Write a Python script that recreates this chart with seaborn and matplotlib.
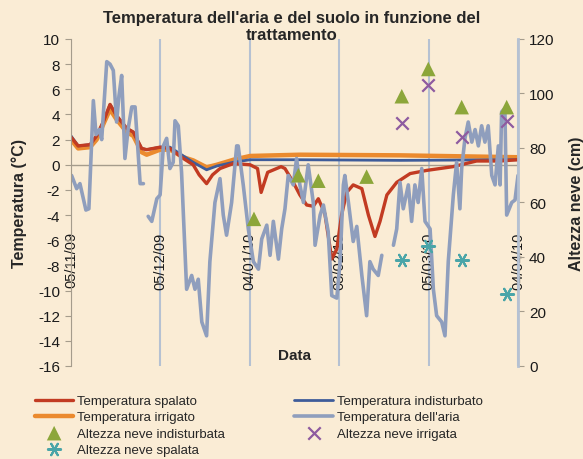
import numpy as np
import pandas as pd
import matplotlib
matplotlib.use("Agg")
import matplotlib.pyplot as plt
import seaborn as sns

# days counted from 05/11/2009
start = pd.Timestamp("2009-11-05")
tick_days = [0, 30, 60, 90, 120, 150]

# air temperature (NaN = gap in the record)
air_day = [0.2, 1.9, 3.0, 5.0, 6.0, 7.5, 8.4, 9.5, 10.3, 12.0, 13.1, 14.2, 15.3, 16.1, 17.0,
           18.1, 19.2, 20.4, 21.5, 22.2, 23.2, 24.3, 25.0, 25.9, 27.1, 28.8, 29.9, 31.0, 32.1,
           33.2, 34.3, 34.9, 36.0, 37.1, 38.8, 40.5, 41.6, 42.7, 43.9, 45.5, 46.6, 48.3, 50.0,
           51.1, 52.2, 53.9, 55.6, 56.1, 57.8, 59.5, 61.2, 62.9, 64.0, 65.7, 66.8, 67.9, 69.6,
           70.7, 71.8, 72.9, 74.6, 75.7, 76.8, 78.0, 79.6, 81.3, 81.9, 83.6, 84.7, 86.3, 87.5,
           89.2, 90.3, 91.4, 91.9, 93.1, 94.7, 95.9, 97.6, 99.2, 100.3, 101.4, 103.1, 104.3,
           106.0, 108.2, 109.3, 110.4, 111.5, 113.2, 114.3, 115.4, 116.5, 117.7, 118.8, 120.5,
           121.6, 122.7, 124.4, 125.5, 126.6, 128.3, 129.4, 130.5, 131.1, 132.2, 133.3, 134.5,
           135.6, 136.7, 137.8, 138.9, 140.0, 141.2, 142.3, 143.4, 144.0, 144.5, 145.6, 146.2,
           147.9, 149.0, 150.0]
air_temp = [-0.85, -1.9, -1.5, -3.6, -3.5, 5.1, 2.4, 2.8, 2.0, 8.2, 8.0, 7.5, 3.4, 5.5, 7.1,
            0.5, 2.9, 4.6, 4.6, 2.1, -1.5, -1.5, np.nan, -4.1, -4.5, -2.7, -2.4, 1.5, 2.1,
            -0.3, 0.2, 3.5, 3.1, -0.6, -9.9, -8.8, -9.9, -9.1, -12.5, -13.6, -7.7, -3.0, -1.1,
            -4.0, -5.6, -3.0, 1.5, 1.5, -1.6, -5.1, -7.7, -8.3, -5.9, -4.8, -7.2, -4.5, -7.5,
            -5.1, -3.5, -0.85, -1.6, 0.5, -1.6, -3.0, 0.0, -3.0, -6.4, -4.0, -3.2, -5.3, -10.4,
            -10.6, -7.7, -1.6, -0.85, -3.0, -6.1, -4.9, -8.8, -12.0, -7.7, -8.3, -8.8, -7.2,
            np.nan, -6.4, -5.1, -1.4, -3.5, -1.6, -4.5, -1.6, -3.0, -0.3, -4.5, -5.1,
            -9.9, -12.0, -12.5, -13.6, -7.7, -2.4, 0.2, -3.5, -0.3, 2.1, 3.4, 1.8,
            2.8, 1.5, 3.1, 1.8, 3.1, -0.85, -1.6, 1.5, -1.6, 4.2, 4.5, -4.0,
            -3.0, -2.8, -0.85]

# soil temperatures
irr_day = [0, 2.4, 6.4, 8.6, 10.8, 13.1, 15.3, 18.7, 20.9, 23.7, 25.4, 29.9, 33.2, 37.7,
           41.0, 45.5, 48.9, 54.5, 60.1, 76.8, 110.4, 150]
irr_temp = [2.0, 1.3, 1.4, 2.0, 3.2, 4.4, 3.6, 2.6, 2.3, 1.0, 0.8, 1.2, 1.2, 0.6,
            0.35, -0.2, 0.0, 0.4, 0.7, 0.8, 0.75, 0.6]

ind_day = [0, 2.4, 6.4, 8.6, 10.8, 13.1, 15.3, 18.7, 20.9, 23.7, 25.4, 29.9, 33.2, 37.7,
           41.0, 45.5, 48.9, 54.5, 60.1, 76.8, 110.4, 150]
ind_temp = [2.3, 1.5, 1.6, 2.3, 3.4, 4.8, 3.9, 2.9, 2.6, 1.3, 1.2, 1.4, 1.4, 0.7,
            0.2, -0.4, -0.1, 0.2, 0.4, 0.4, 0.35, 0.4]

spa_day = [0, 2.4, 6.4, 8.6, 10.8, 13.1, 15.3, 18.7, 20.9, 23.7, 25.4, 29.9, 33.2, 37.7,
           41.0, 43.0, 45.5, 47.5, 50.0, 54.5, 60.1, 62.6, 63.8, 66.0, 70.5, 71.8, 74.6,
           76.8, 79.1, 81.3, 83.0, 85.2, 87.5, 89.2, 90.8, 92.5, 94.7, 97.6, 99.8, 102.0,
           103.7, 106.0, 109.3, 113.8, 119.3, 128.2, 136.1, 144.0, 150]
spa_temp = [2.2, 1.5, 1.6, 2.3, 3.4, 4.8, 3.9, 2.9, 2.6, 1.3, 1.2, 1.4, 1.3, 0.5,
            0.0, -0.8, -1.5, -0.8, -0.3, 0.1, 0.0, -0.3, -2.2, -0.6, -0.15, -0.3, -1.4,
            -2.4, -3.2, -3.3, -2.7, -3.9, -7.5, -6.7, -4.0, -2.2, -1.6, -1.9, -4.0, -5.7,
            -4.5, -2.4, -1.4, -0.7, -0.45, -0.15, 0.3, 0.3, 0.4]

# snow height (cm)
snow_day = [61.4, 76.3, 83.0, 99.2, 111.0, 119.9, 131.1, 146.2]
snow_ind = [54, 70, 68, 69.5, 99, 109, 95, 95]
snow_day2 = [111.0, 119.9, 131.1, 146.2]
snow_irr = [89, 103, 84, 90]
snow_spa = [39, 44, 39, 26.5]


def to_date(days):
    return start + pd.to_timedelta(days, unit="D")


bg = "#FAECD5"
c_red = "#C23B22"
c_orange = "#EB8A2E"
c_blue = "#3E5C9A"
c_air = "#8F9EBD"
axis_c = "#A59C8C"

sns.set_style("white")
plt.rcParams["font.family"] = ["Liberation Sans", "DejaVu Sans"]
plt.rcParams["axes.unicode_minus"] = False

fig = plt.figure(figsize=(5.83, 4.60), dpi=100, facecolor=bg)
ax = fig.add_axes([71 / 583, 1 - 367 / 460, 447 / 583, 327 / 460])
ax.set_facecolor(bg)

air = pd.DataFrame({"date": to_date(air_day), "t": air_temp})
air["seg"] = air["t"].isna().cumsum()
air = air.dropna()

sns.lineplot(x=to_date(irr_day), y=irr_temp, ax=ax, color=c_orange, lw=3.2,
             label="Temperatura irrigato", zorder=3)
sns.lineplot(x=to_date(ind_day), y=ind_temp, ax=ax, color=c_blue, lw=2.0,
             label="Temperatura indisturbato", zorder=4)
sns.lineplot(x=to_date(spa_day), y=spa_temp, ax=ax, color=c_red, lw=2.4,
             label="Temperatura spalato", zorder=5)
sns.lineplot(data=air, x="date", y="t", units="seg", estimator=None, ax=ax,
             color=c_air, lw=2.6, label="Temperatura dell'aria", zorder=6)

ax.axhline(0, color=axis_c, lw=1, zorder=2)
ax.set_xlim(to_date(0), to_date(150))
ax.set_ylim(-16, 10)
ax.set_yticks(range(-16, 11, 2))
ax.set_xticks(to_date(tick_days))
ax.set_xticklabels([d.strftime("%d/%m/%y") for d in to_date(tick_days)])
ax.tick_params(axis="x", length=0, pad=-97, labelrotation=90, labelsize=10.5,
               labelcolor="#1a1a1a")
ax.tick_params(axis="y", direction="out", length=4, color=axis_c, labelsize=11, pad=4,
               labelcolor="#1a1a1a")
ax.grid(axis="x", color="#B5C1D2", lw=1.5, zorder=1)
ax.grid(axis="y", visible=False)
for s in ["top", "bottom", "right"]:
    ax.spines[s].set_visible(False)
ax.spines["left"].set_color(axis_c)
ax.spines["left"].set_zorder(7)
ax.set_ylabel("Temperatura (°C)", fontsize=11.5, fontweight="bold", labelpad=8)
ax.set_xlabel("")
ax.text(0.5, 0.012, "Data", transform=ax.transAxes, ha="center", va="bottom",
        fontsize=11, fontweight="bold")

ax2 = ax.twinx()
sns.scatterplot(x=to_date(snow_day), y=snow_ind, ax=ax2, marker="^", s=110,
                color="#8CA63A", edgecolor="none", label="Altezza neve indisturbata", zorder=8)
sns.scatterplot(x=to_date(snow_day2), y=snow_irr, ax=ax2, marker="x", s=80,
                color="#8E5BA0", linewidth=1.6, label="Altezza neve irrigata", zorder=8)
sns.scatterplot(x=to_date(snow_day2), y=snow_spa, ax=ax2, marker=(6, 2, 90), s=90,
                color="#4AA5A8", linewidth=1.5, label="Altezza neve spalata", zorder=8)
ax2.set_ylim(0, 120)
ax2.set_yticks(range(0, 121, 20))
ax2.tick_params(axis="y", direction="out", length=4, color=axis_c, labelsize=11, pad=4,
                labelcolor="#1a1a1a")
for s in ["top", "bottom", "left"]:
    ax2.spines[s].set_visible(False)
ax2.spines["right"].set_color("#B5C1D2")
ax2.spines["right"].set_linewidth(2)
ax2.set_ylabel("Altezza neve (cm)", fontsize=11.5, fontweight="bold", labelpad=10)
ax2.grid(False)

fig.text(292 / 583, 1 - 11 / 460,
         "Temperatura dell'aria e del suolo in funzione del\ntrattamento",
         ha="center", va="top", fontsize=12, fontweight="bold", linespacing=1.15)

h1, l1 = ax.get_legend_handles_labels()
h2, l2 = ax2.get_legend_handles_labels()
for a in (ax, ax2):
    if a.get_legend() is not None:
        a.get_legend().remove()
hd = dict(zip(l1 + l2, h1 + h2))
order = ["Temperatura spalato", "Temperatura irrigato", "Altezza neve indisturbata",
         "Altezza neve spalata", "Temperatura indisturbato", "Temperatura dell'aria",
         "Altezza neve irrigata"]
fig.legend([hd[k] for k in order], order, loc="upper left",
           bbox_to_anchor=(35 / 583, 1 - 396 / 460), ncol=2, frameon=False,
           fontsize=9.5, handlelength=2.9, handletextpad=0.3, columnspacing=5.25,
           labelspacing=0.3, borderpad=0, borderaxespad=0)

fig.savefig("out.png", dpi=100, facecolor=bg)
